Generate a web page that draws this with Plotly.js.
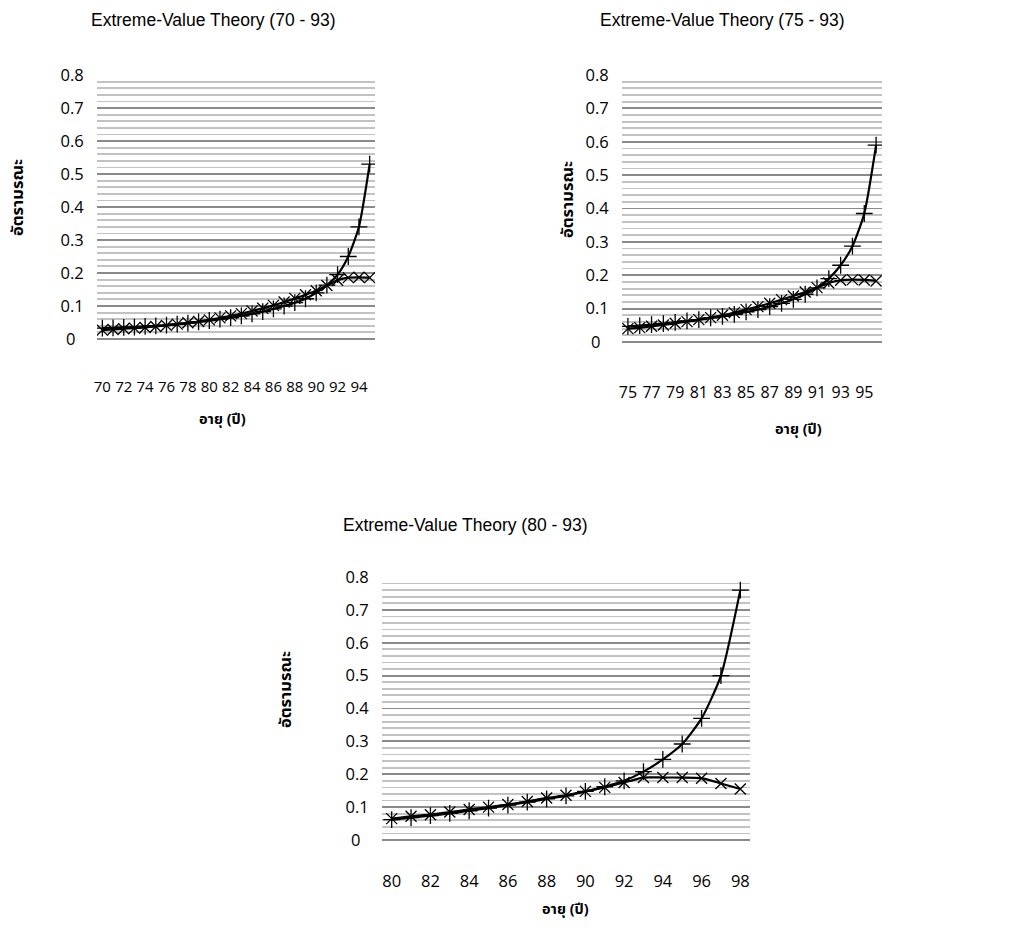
<!DOCTYPE html>
<html><head><meta charset="utf-8">
<script src="https://cdn.plot.ly/plotly-3.0.1.min.js"></script>
<style>html,body{margin:0;padding:0;background:#fff}#c{width:1024px;height:939px}</style>
</head><body><div id="c"></div>
<script>
// Chart 1: ages 70-95
const ages1 = [70,71,72,73,74,75,76,77,78,79,80,81,82,83,84,85,86,87,88,89,90,91,92,93,94,95];
const cross1 = [0.033,0.034,0.035,0.036,0.038,0.040,0.042,0.045,0.048,0.052,0.056,0.060,0.065,0.070,0.076,0.083,0.091,0.100,0.110,0.122,0.140,0.163,0.195,0.250,0.340,0.530];
const xmark1 = [0.027,0.029,0.031,0.033,0.035,0.038,0.041,0.045,0.049,0.053,0.058,0.064,0.070,0.077,0.085,0.093,0.102,0.112,0.123,0.134,0.146,0.162,0.178,0.186,0.187,0.186];
// Chart 2: ages 75-96
const ages2 = [75,76,77,78,79,80,81,82,83,84,85,86,87,88,89,90,91,92,93,94,95,96];
const cross2 = [0.047,0.049,0.052,0.055,0.059,0.063,0.067,0.072,0.077,0.083,0.090,0.097,0.106,0.116,0.128,0.143,0.162,0.190,0.230,0.287,0.385,0.590];
const xmark2 = [0.040,0.043,0.047,0.051,0.056,0.061,0.067,0.073,0.080,0.088,0.097,0.106,0.116,0.127,0.138,0.150,0.163,0.177,0.185,0.187,0.186,0.183];
// Chart 3: ages 80-98
const ages3 = [80,81,82,83,84,85,86,87,88,89,90,91,92,93,94,95,96,97,98];
const cross3 = [0.062,0.068,0.074,0.081,0.089,0.097,0.106,0.115,0.125,0.134,0.148,0.162,0.180,0.208,0.245,0.292,0.370,0.500,0.760];
const xmark3 = [0.065,0.072,0.077,0.085,0.093,0.100,0.108,0.117,0.128,0.136,0.148,0.160,0.175,0.190,0.190,0.190,0.188,0.172,0.155];

const titles = ["Extreme-Value Theory (70 - 93)","Extreme-Value Theory (75 - 93)","Extreme-Value Theory (80 - 93)"];
const xTitle = "อายุ (ปี)";
const yTitle = "อัตรามรณะ";
const yTickVals = [0,0.1,0.2,0.3,0.4,0.5,0.6,0.7,0.8];
const yTickText = ['0\u2002','0.1','0.2','0.3','0.4','0.5','0.6','0.7','0.8'];

const W = 1024, H = 939;
const fx = p => p / W, fy = p => 1 - p / H;
// plot boxes in pixels: [left, right, top(0.8), bottom(0)]
const boxes = [[97,375,75,339],[622,882,75,342],[382,750,577,840]];
const xLabelGap = [34,36,26];
const xTickSize = [15,16,16.5];
const tickStart = [70,75,80];
const cats = [ages1, ages2, ages3];
const crossS = [cross1, cross2, cross3];
const xS = [xmark1, xmark2, xmark3];

const traces = [];
const layout = {
  width: W, height: H, margin:{l:0,r:0,t:0,b:0},
  paper_bgcolor:'#fff', plot_bgcolor:'#fff', showlegend:false,
  font:{family:'Liberation Sans, Arial, sans-serif', color:'#000'},
  annotations:[]
};
const tickFam = 'Open Sans, Liberation Sans, sans-serif';
const xTitleFont = {family:'Noto Sans Thai, Noto Sans, Tahoma, sans-serif', size:14.5, color:'#000'};
const yTitleFont = {family:'Noto Sans Thai, Noto Sans, Tahoma, sans-serif', size:16.5, color:'#000'};

for (let i=0;i<3;i++){
  const [l,r,t,b] = boxes[i];
  const sfx = i===0 ? '' : String(i+1);
  const xa = 'x'+sfx, ya = 'y'+sfx;
  const ages = cats[i];
  traces.push({x:ages, y:xS[i], xaxis:xa, yaxis:ya, type:'scatter', mode:'lines+markers',
    line:{color:'#000', width:2.2, shape:'spline', smoothing:0.6},
    marker:{symbol:'x-thin-open', size:11, line:{color:'#000', width:1.3}}});
  traces.push({x:ages, y:crossS[i], xaxis:xa, yaxis:ya, type:'scatter', mode:'lines+markers',
    line:{color:'#000', width:2.2, shape:'spline', smoothing:0.6},
    marker:{symbol:'cross-thin-open', size:12, line:{color:'#000', width:1.3}}});
  layout['xaxis'+sfx] = {
    domain:[fx(l), fx(r)], anchor:ya, range:[ages[0]-0.5, ages[ages.length-1]+0.5],
    tickmode:'linear', tick0:tickStart[i], dtick:2, showgrid:false, zeroline:false,
    showline:false, ticks:'outside', ticklen:xLabelGap[i], tickcolor:'rgba(0,0,0,0)',
    tickfont:{family:tickFam, size:xTickSize[i], color:'#000'}, fixedrange:true
  };
  layout['yaxis'+sfx] = {
    domain:[fy(b), fy(t)], anchor:xa, range:[0,0.8], tickmode:'array',
    tickvals:yTickVals, ticktext:yTickText,
    showgrid:true, gridcolor:'#8a8a8a', gridwidth:1.8,
    minor:{dtick:0.02, showgrid:true, gridcolor:'#c2c2c2', gridwidth:1.8},
    zeroline:true, zerolinecolor:'#8a8a8a', zerolinewidth:1.8, showline:false,
    ticks:'outside', ticklen:9, tickcolor:'rgba(0,0,0,0)',
    tickfont:{family:tickFam, size:16.5, color:'#000'}, fixedrange:true
  };
}

const titlePos = [[213,20],[722,20],[465,525]];
const xtPos = [[222,420],[798,430],[565,910]];
const ytPos = [[18,198],[568,200],[285,690]];
for (let i=0;i<3;i++){
  layout.annotations.push({text:titles[i], xref:'paper', yref:'paper', x:fx(titlePos[i][0]), y:fy(titlePos[i][1]),
    xanchor:'center', yanchor:'middle', showarrow:false, font:{family:'Liberation Sans, Arial, sans-serif', size:17.5, color:'#000'}});
  layout.annotations.push({text:'<b>'+xTitle+'</b>', xref:'paper', yref:'paper', x:fx(xtPos[i][0]), y:fy(xtPos[i][1]),
    xanchor:'center', yanchor:'middle', showarrow:false, font:xTitleFont});
  layout.annotations.push({text:'<b>'+yTitle+'</b>', xref:'paper', yref:'paper', x:fx(ytPos[i][0]), y:fy(ytPos[i][1]),
    xanchor:'center', yanchor:'middle', showarrow:false, textangle:-90, font:yTitleFont});
}

Plotly.newPlot('c', traces, layout, {staticPlot:true, displayModeBar:false});
</script></body></html>
